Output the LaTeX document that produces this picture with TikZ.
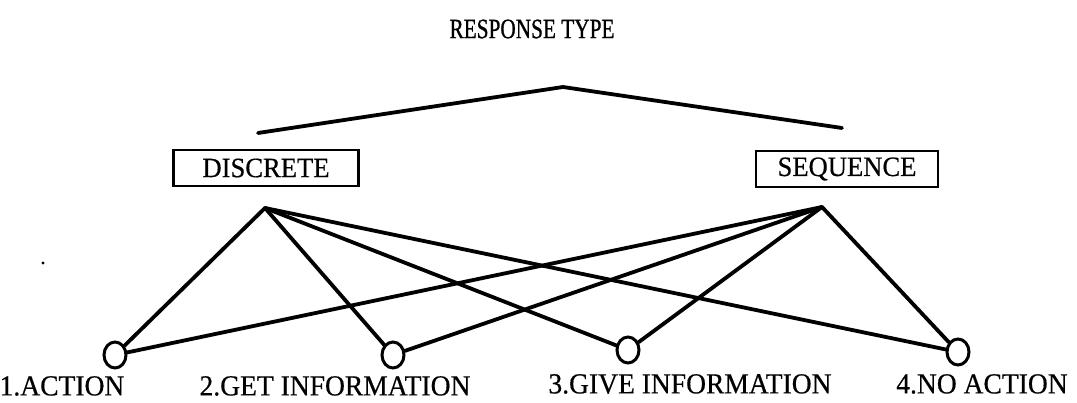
\documentclass[tikz,border=0pt]{standalone}
\usepackage{fontspec}
\setmainfont{Liberation Serif}
\newfontfamily\titleface[FakeStretch=0.76,FakeBold=0.8]{Liberation Serif}
\newfontfamily\labelface[FakeStretch=0.95,FakeBold=0.5]{Liberation Serif}
\usetikzlibrary{shapes.geometric}
\begin{document}
\begin{tikzpicture}[x=1pt,y=-1pt,
  link/.style={line width=3.8pt, line cap=round, line join=round},
  catbox/.style={draw, line width=2.8pt, minimum height=36pt, inner sep=0pt, font=\labelface\fontsize{28}{30}\selectfont},
  leaf/.style={draw, ellipse, line width=3pt, minimum width=22pt, minimum height=26pt, inner sep=0pt},
  leaflabel/.style={font=\labelface\fontsize{29}{31}\selectfont, inner sep=0pt}]
\useasboundingbox (0,0) rectangle (1077,403);

% title and its branches
\node[font=\titleface\fontsize{28}{30}\selectfont, inner sep=0pt] (title) at (532,29) {RESPONSE TYPE};
\coordinate (apex) at (563,87);
\coordinate (brL) at (258,133);
\coordinate (brR) at (842,128);
\draw[link] (brL) -- (apex) -- (brR);

% category boxes
\node[catbox, minimum width=185pt] (disc) at (266,168) {DISCRETE};
\node[catbox, minimum width=182pt] (seq) at (847,169) {SEQUENCE};
\coordinate (dsrc) at (265,208);
\coordinate (ssrc) at (822,207);

% response leaves
\node[leaf] (c1) at (115,355) {};
\node[leaf] (c2) at (393,355) {};
\node[leaf] (c3) at (628,350) {};
\node[leaf] (c4) at (958,352) {};

\node[leaflabel] (l1) at (62,386) {1.ACTION};
\node[leaflabel] (l2) at (335,386) {2.GET INFORMATION};
\node[leaflabel] (l3) at (690,384) {3.GIVE INFORMATION};
\node[leaflabel] (l4) at (982,384) {4.NO ACTION};

% every category links to every leaf
\foreach \c in {c1,c2,c3,c4} {
  \draw[link] (dsrc) -- (\c);
  \draw[link] (ssrc) -- (\c);
}

% stray speck
\fill (43,263) circle (1.6pt);
\end{tikzpicture}
\end{document}
